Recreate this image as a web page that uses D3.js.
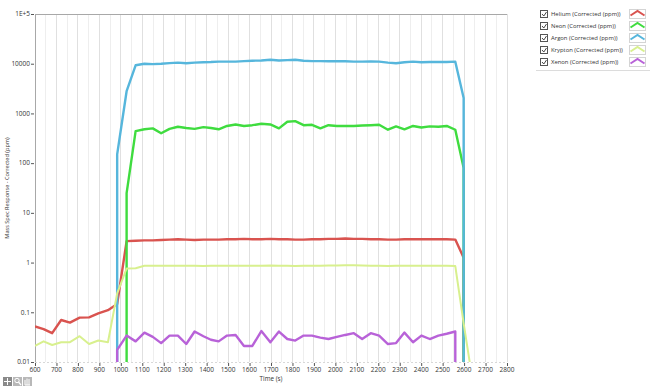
<!DOCTYPE html>
<html>
<head>
<meta charset="utf-8">
<script src="https://cdn.jsdelivr.net/npm/d3@7"></script>
<style>
  body { margin: 0; background: #fff; }
  svg { font-family: 'Open Sans', 'Noto Sans', sans-serif; }
</style>
</head>
<body>
<svg id="chart" width="652" height="390"></svg>
<script>
// sample times (s)
const times = [600, 640, 680, 722, 763, 808, 852, 895, 940,
  983, 1027, 1069, 1110, 1149, 1188, 1227, 1266, 1305, 1344, 1385, 1420, 1456, 1495, 1535,
  1574, 1613, 1655, 1697, 1737, 1776, 1813, 1852, 1891, 1930, 1968, 2007, 2046, 2086, 2125,
  2165, 2204, 2245, 2283, 2322, 2362, 2401, 2440, 2480, 2519, 2559, 2598, 2637]

// null = below detection (drawn as a drop to the axis)
const helium = [0.052, 0.046, 0.038, 0.070, 0.062, 0.078, 0.079, 0.095, 0.11,
  0.147, 2.7, 2.75, 2.8, 2.8, 2.85, 2.9, 2.95, 2.9, 2.85, 2.9, 2.9, 2.9, 2.95, 2.95,
  3.0, 2.95, 2.95, 3.0, 2.95, 2.95, 2.9, 2.9, 2.95, 2.95, 3.0, 3.0, 3.05, 3.0, 3.0,
  2.95, 2.95, 2.9, 2.9, 2.95, 2.95, 2.95, 2.95, 2.95, 2.95, 2.9, 1.25, null]

const neon = [null, null, null, null, null, null, null, null, null,
  null, 25, 440, 480, 500, 400, 490, 540, 510, 490, 530, 510, 480, 560, 600,
  560, 580, 620, 600, 500, 680, 700, 580, 590, 500, 580, 560, 560, 560, 570,
  580, 590, 470, 550, 480, 560, 520, 550, 540, 560, 470, 80, null]

const argon = [null, null, null, null, null, null, null, null, null,
  150, 2800, 9300, 10000, 9800, 10000, 10300, 10500, 10200, 10500, 10700, 10800, 11000, 11000, 11000,
  11300, 11500, 11600, 12000, 11600, 11800, 12000, 11500, 11300, 11300, 11200, 11200, 11200, 11000, 11000,
  11100, 11000, 10500, 10200, 10700, 11000, 10700, 10800, 10900, 10800, 11000, 2050, null]

const krypton = [0.021, 0.026, 0.022, 0.025, 0.025, 0.033, 0.023, 0.027, 0.025,
  0.24, 0.76, 0.77, 0.86, 0.86, 0.86, 0.86, 0.86, 0.86, 0.86, 0.85, 0.86, 0.86, 0.86, 0.86,
  0.86, 0.86, 0.86, 0.87, 0.86, 0.86, 0.85, 0.86, 0.86, 0.86, 0.87, 0.87, 0.88, 0.88, 0.87,
  0.86, 0.86, 0.85, 0.86, 0.86, 0.86, 0.86, 0.86, 0.86, 0.86, 0.85, 0.06, 0.005]

const xenon = [null, null, null, null, null, null, null, null, null,
  0.0176, 0.034, 0.026, 0.039, 0.032, 0.024, 0.034, 0.034, 0.023, 0.041, 0.033, 0.028, 0.026, 0.034, 0.035,
  0.021, 0.021, 0.042, 0.025, 0.041, 0.029, 0.027, 0.034, 0.034, 0.031, 0.029, 0.032, 0.035, 0.038, 0.029,
  0.038, 0.034, 0.023, 0.024, 0.039, 0.025, 0.034, 0.029, 0.034, 0.037, 0.041, null, null]

const seriesNames = ['Helium (Corrected (ppm))', 'Neon (Corrected (ppm))', 'Argon (Corrected (ppm))',
  'Krypton (Corrected (ppm))', 'Xenon (Corrected (ppm))']
const seriesColors = ['#d9534f', '#3fdc3f', '#56b6dc', '#d8f08e', '#b862d8']
const seriesValues = [helium, neon, argon, krypton, xenon]

const xTicks = [600, 700, 800, 900, 1000, 1100, 1200, 1300, 1400, 1500, 1600, 1700,
  1800, 1900, 2000, 2100, 2200, 2300, 2400, 2500, 2600, 2700, 2800]
const yTicks = [0.01, 0.1, 1, 10, 100, 1000, 10000, 100000]
const yTickLabels = ['0.01', '0.1', '1', '10', '100', '1000', '10000', '1E+5']

const svg = d3.select('#chart')
const plotL = 35, plotR = 507, plotT = 14, plotB = 362

const x = d3.scaleLinear().domain([600, 2800]).range([plotL, plotR])
const y = d3.scaleLog().domain([0.01, 100000]).range([plotB, plotT])

// vertical grid
const minor = d3.range(600, 2801, 50)
svg.append('g')
  .selectAll('line')
  .data(minor)
  .join('line')
  .attr('x1', d => x(d)).attr('x2', d => x(d))
  .attr('y1', plotT).attr('y2', plotB)
  .style('stroke', d => d % 100 === 0 ? '#e0e0e0' : '#eeeeee')
  .style('stroke-width', 1)
  .attr('shape-rendering', 'crispEdges')

// frame
svg.append('line')
  .attr('x1', plotL).attr('x2', plotR).attr('y1', plotT).attr('y2', plotT)
  .style('stroke', '#a8a8a8').attr('shape-rendering', 'crispEdges')
svg.append('line')
  .attr('x1', plotL).attr('x2', plotL).attr('y1', plotT).attr('y2', plotB)
  .style('stroke', '#a8a8a8').attr('shape-rendering', 'crispEdges')
svg.append('line')
  .attr('x1', plotL).attr('x2', plotR).attr('y1', plotB + 0.5).attr('y2', plotB + 0.5)
  .style('stroke', '#d8d8d8').style('stroke-dasharray', '2,2')

// y axis
const yAxis = svg.append('g')
yAxis.selectAll('line')
  .data(yTicks)
  .join('line')
  .attr('x1', plotL - 4).attr('x2', plotL - 1)
  .attr('y1', d => y(d) + 0.5).attr('y2', d => y(d) + 0.5)
  .style('stroke', '#555')
yAxis.selectAll('text')
  .data(yTicks)
  .join('text')
  .attr('x', plotL - 5)
  .attr('y', d => y(d) + 2.3)
  .attr('text-anchor', 'end')
  .text((d, i) => yTickLabels[i])
  .style('font-size', '6.5px')
  .style('fill', '#333')

// x axis
const xAxis = svg.append('g')
xAxis.selectAll('line')
  .data(xTicks)
  .join('line')
  .attr('x1', d => x(d) + 0.5).attr('x2', d => x(d) + 0.5)
  .attr('y1', plotB + 1).attr('y2', plotB + 4)
  .style('stroke', '#555')
xAxis.selectAll('text')
  .data(xTicks)
  .join('text')
  .attr('x', d => x(d))
  .attr('y', plotB + 10)
  .attr('text-anchor', 'middle')
  .text(d => d)
  .style('font-size', '6.5px')
  .style('fill', '#333')

svg.append('text')
  .attr('x', (plotL + plotR) / 2)
  .attr('y', 381)
  .attr('text-anchor', 'middle')
  .text('Time (s)')
  .style('font-size', '6.3px')
  .style('fill', '#333')

svg.append('text')
  .attr('transform', `translate(9, ${(plotT + plotB) / 2}) rotate(-90)`)
  .attr('text-anchor', 'middle')
  .text('Mass Spec Response - Corrected (ppm)')
  .style('font-size', '5.6px')
  .style('fill', '#333')

// clip to plot area
svg.append('clipPath').attr('id', 'plot')
  .append('rect')
  .attr('x', plotL).attr('y', plotT)
  .attr('width', plotR - plotL).attr('height', plotB - plotT)

// build points; a missing neighbour drops the line straight to the axis
function pointsFor(vals) {
  const pts = []
  vals.forEach((v, i) => {
    if (v === null) return
    const px = x(times[i])
    if (i > 0 && vals[i - 1] === null) pts.push([px, plotB + 5])
    pts.push([px, y(v)])
    if (i < vals.length - 1 && vals[i + 1] === null) pts.push([px, plotB + 5])
  })
  return pts
}

const line = d3.line()
svg.append('g')
  .attr('clip-path', 'url(#plot)')
  .selectAll('path')
  .data(seriesValues)
  .join('path')
  .attr('d', d => line(pointsFor(d)))
  .style('fill', 'none')
  .style('stroke', (d, i) => seriesColors[i])
  .style('stroke-width', (d, i) => i === 3 ? 2 : 2.4)
  .style('stroke-linejoin', 'round')

// legend
const legend = svg.append('g')
legend.append('line')
  .attr('x1', 536).attr('x2', 650).attr('y1', 70.5).attr('y2', 70.5)
  .style('stroke', '#dcdcdc')
const items = legend.selectAll('g')
  .data(seriesNames)
  .join('g')
  .attr('transform', (d, i) => `translate(0, ${14 + i * 12})`)
items.append('rect')
  .attr('x', 540.5).attr('y', -3.5).attr('width', 7).attr('height', 7)
  .style('fill', '#fff').style('stroke', '#555')
items.append('path')
  .attr('d', 'M542,0 L543.8,2 L546.5,-2')
  .style('fill', 'none').style('stroke', '#333').style('stroke-width', 0.9)
items.append('text')
  .attr('x', 551).attr('y', 2.3)
  .text(d => d)
  .style('font-size', '5.9px')
  .style('fill', '#333')
items.append('rect')
  .attr('x', 629.5).attr('y', -4.5).attr('width', 16).attr('height', 9)
  .style('fill', '#fff').style('stroke', '#d4d4d4')
items.append('path')
  .attr('d', 'M630.5,1.5 L637.5,-3 L644.5,1.5')
  .style('fill', 'none')
  .style('stroke', (d, i) => seriesColors[i])
  .style('stroke-width', 2)

// toolbar icons bottom-left
const tools = svg.append('g')
const toolX = [3, 13, 23]
tools.selectAll('rect')
  .data(toolX)
  .join('rect')
  .attr('x', d => d).attr('y', 377).attr('width', 9).attr('height', 9)
  .style('fill', (d, i) => i === 0 ? '#8a8a8a' : '#b8b8b8')
tools.append('path')
  .attr('d', 'M7.5,378 V385 M4,381.5 H11')
  .style('stroke', '#fff').style('stroke-width', 1)
tools.append('circle')
  .attr('cx', 17).attr('cy', 380.5).attr('r', 2.2)
  .style('fill', 'none').style('stroke', '#fff')
tools.append('path')
  .attr('d', 'M18.5,382 L21,385')
  .style('stroke', '#fff').style('stroke-width', 1.2)
tools.append('path')
  .attr('d', 'M25,385 V380 M27,385 V378.5 M29,385 V379 M25,385 H30')
  .style('stroke', '#fff').style('stroke-width', 1)
</script>
</body>
</html>
